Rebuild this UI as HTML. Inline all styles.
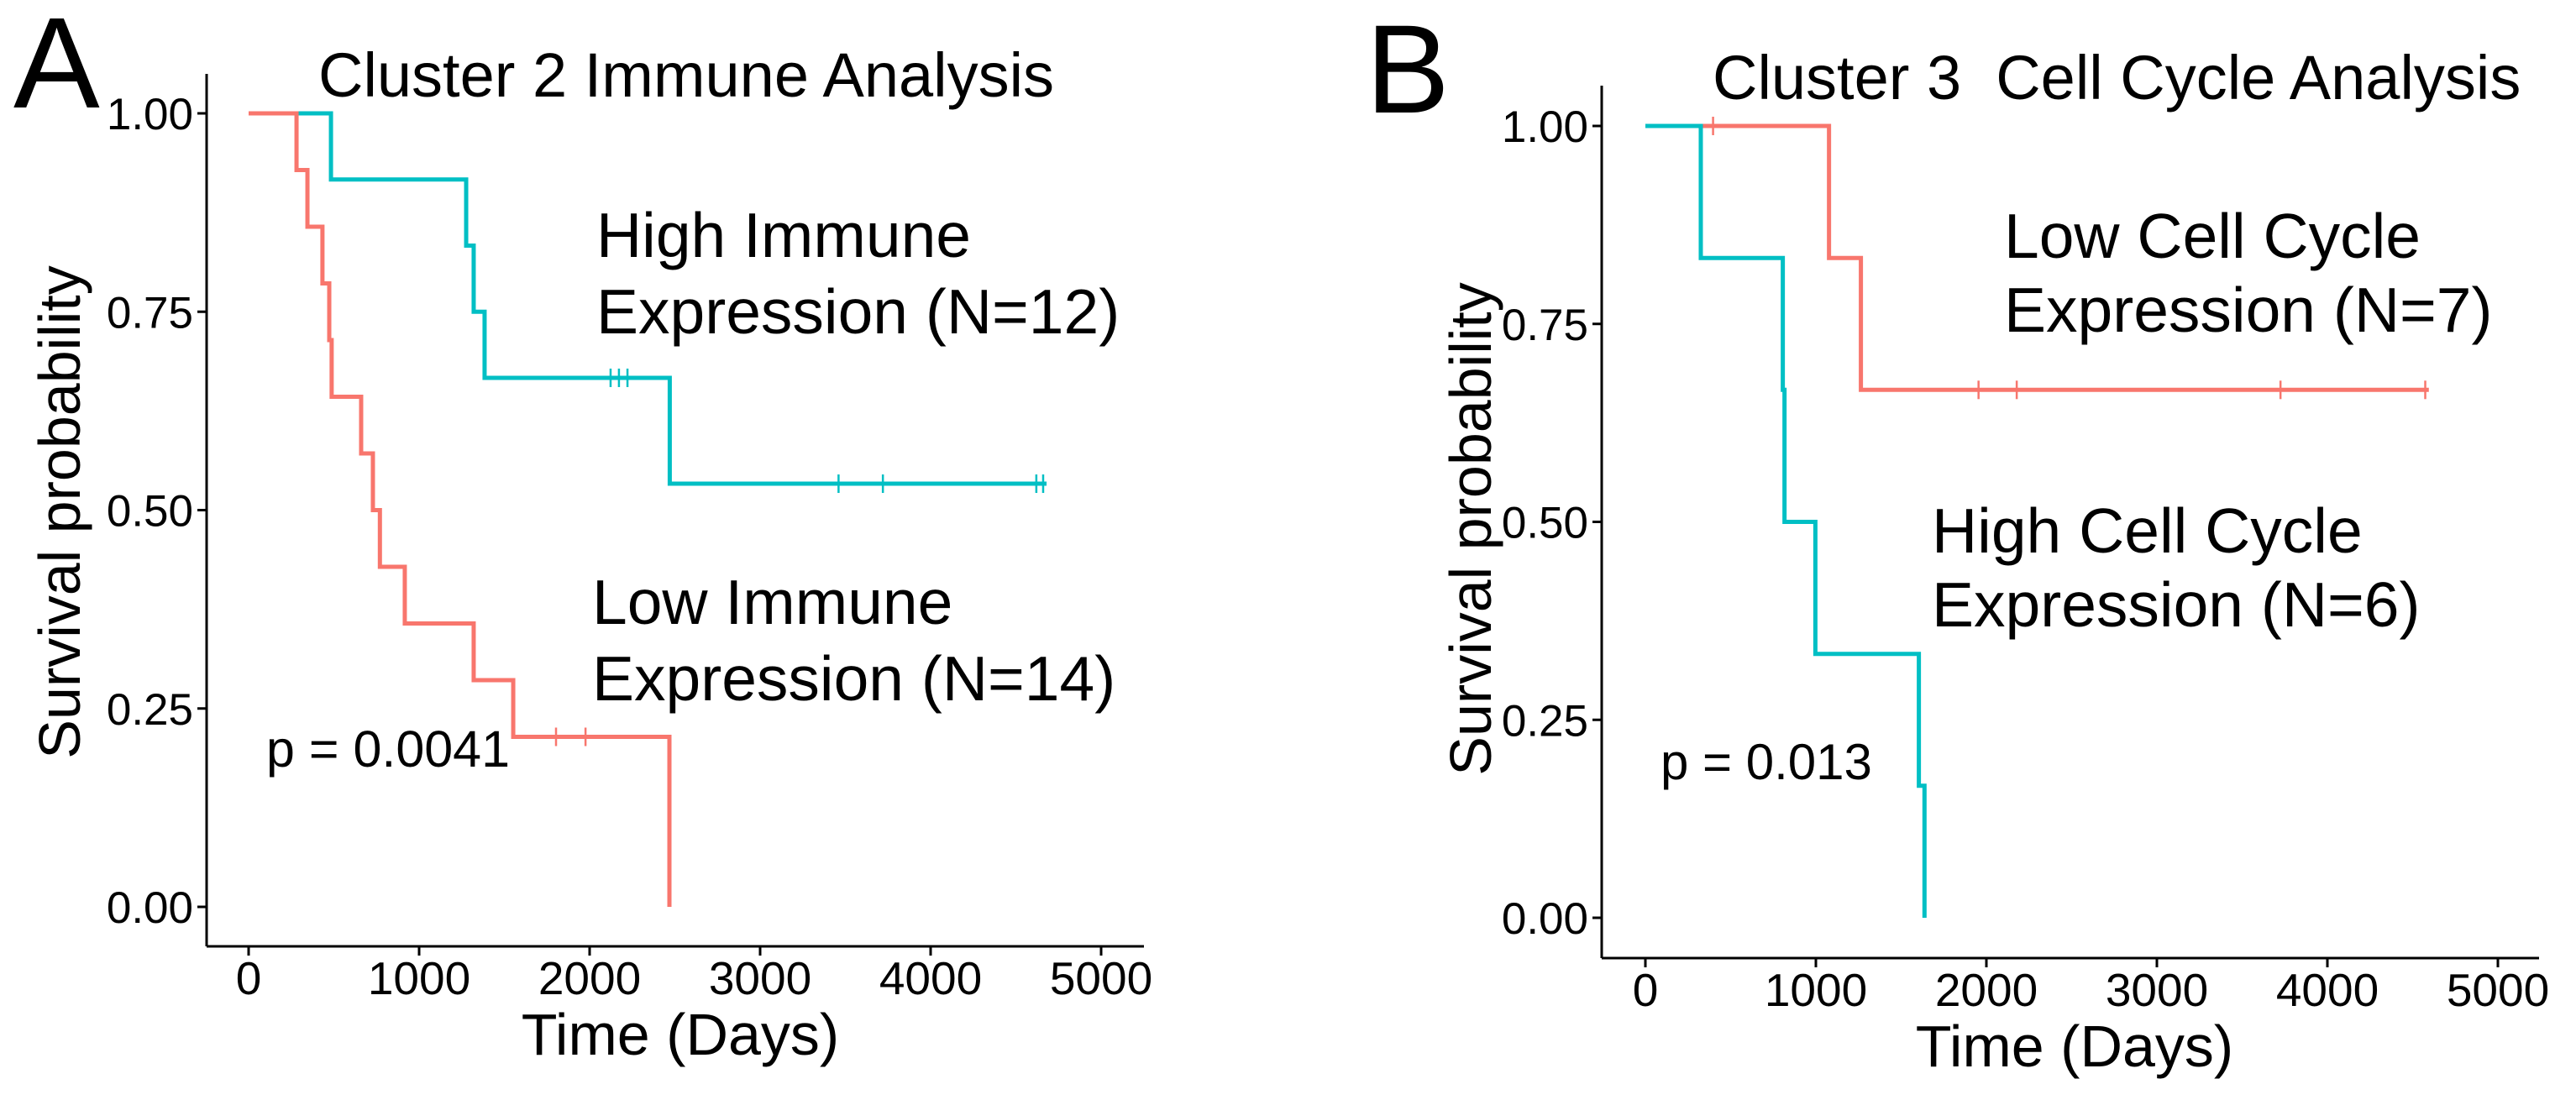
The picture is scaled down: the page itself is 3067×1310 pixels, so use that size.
<!DOCTYPE html>
<html><head><meta charset="utf-8"><style>
html,body{margin:0;padding:0;background:#fff;}
svg{display:block;font-family:"Liberation Sans",Arial,sans-serif;}
</style></head><body>
<svg id="fig" width="3067" height="1310" viewBox="0 0 3067 1310" xmlns="http://www.w3.org/2000/svg">
<text x="16" y="128" font-size="154">A</text>
<text x="1626" y="134" font-size="150">B</text>
<text x="379" y="115" font-size="74">Cluster 2 Immune Analysis</text>
<text x="2039" y="118" font-size="74" xml:space="preserve">Cluster 3  Cell Cycle Analysis</text>
<g font-size="75">
<text x="710" y="306">High Immune</text><text x="710" y="397">Expression (N=12)</text></g>
<g font-size="75">
<text x="705" y="743">Low Immune</text><text x="705" y="834">Expression (N=14)</text></g>
<text x="317" y="913" font-size="61">p = 0.0041</text>
<g font-size="75">
<text x="2386" y="307">Low Cell Cycle</text><text x="2386" y="395">Expression (N=7)</text></g>
<g font-size="75">
<text x="2300" y="658">High Cell Cycle</text><text x="2300" y="746">Expression (N=6)</text></g>
<text x="1977" y="928" font-size="60">p = 0.013</text>
</svg>
<script>
const NS="http://www.w3.org/2000/svg";
const svg=document.getElementById('fig');
const xTicks=[0,1000,2000,3000,4000,5000];
const yTicks=[0,0.25,0.5,0.75,1];
const yTickLabels=["0.00","0.25","0.50","0.75","1.00"];
// Panel A: High immune (teal)
const aHighTimes=[0,483,1276,1320,1384,2470];
const aHighSurv=[1,0.9167,0.8333,0.75,0.6667,0.5333];
const aHighEnd=4680;
const aHighCensor=[2123,2172,2222,3460,3720,4620,4660];
// Panel A: Low immune (red)
const aLowTimes=[0,281,345,433,473,487,660,729,770,916,1320,1552,2468];
const aLowSurv=[1,0.9286,0.8571,0.7857,0.7143,0.6429,0.5714,0.5,0.4286,0.3571,0.2857,0.2143,0];
const aLowEnd=2468;
const aLowCensor=[1803,1976];
// Panel B: Low cell cycle (red)
const bLowTimes=[0,1077,1264];
const bLowSurv=[1,0.8333,0.6667];
const bLowEnd=4595;
const bLowCensor=[397,1954,2178,3725,4574];
// Panel B: High cell cycle (teal)
const bHighTimes=[0,325,806,816,997,1604,1637];
const bHighSurv=[1,0.8333,0.6667,0.5,0.3333,0.1667,0];
const bHighEnd=1637;
const bHighCensor=[];

function el(tag,attrs,parent){const e=document.createElementNS(NS,tag);for(const k in attrs)e.setAttribute(k,attrs[k]);(parent||svg).appendChild(e);return e;}

function panel(p,id){
  const sx=t=>p.x0+(p.x5-p.x0)*t/5000;
  const sy=v=>p.y0+(p.y1-p.y0)*v;
  const g=el('g',{});
  
  
  const ya=el('line',{x1:p.ax,y1:p.top,x2:p.ax,y2:p.bot,stroke:'#000','stroke-width':3},g);
  
  
  const xa=el('line',{x1:p.ax,y1:p.bot,x2:p.right,y2:p.bot,stroke:'#000','stroke-width':3},g);
  
  
  xTicks.forEach(t=>{
    el('line',{x1:sx(t),y1:p.bot,x2:sx(t),y2:p.bot+11,stroke:'#000','stroke-width':3},g);
    const tx=el('text',{x:sx(t),y:p.xlb,'font-size':55,'text-anchor':'middle'},g);
    
    
    tx.textContent=t;
  });
  yTicks.forEach((v,i)=>{
    el('line',{x1:p.ax-11,y1:sy(v),x2:p.ax,y2:sy(v),stroke:'#000','stroke-width':3},g);
    const tx=el('text',{x:p.ax-16,y:sy(v)+19,'font-size':53,'text-anchor':'end'},g);
    
    
    tx.textContent=yTickLabels[i];
  });
  const xt=el('text',{x:p.xtx,y:p.xty,'font-size':70,'text-anchor':'middle'},g);
  
  
  xt.textContent='Time (Days)';
  const yt=el('text',{x:0,y:0,'font-size':70,'text-anchor':'middle',transform:`translate(${p.ytx},${p.yty}) rotate(-90)`},g);
  
  
  yt.textContent='Survival probability';
  p.series.forEach(s=>{
    let d=`M${sx(s.t[0])},${sy(s.s[0])}`;
    for(let i=1;i<s.t.length;i++){d+=` H${sx(s.t[i])} V${sy(s.s[i])}`;}
    d+=` H${sx(s.end)}`;
    const path=el('path',{d:d,fill:'none',stroke:s.c,'stroke-width':5},g);
    
    
    s.cens.forEach(ct=>{
      let v=s.s[0];for(let i=0;i<s.t.length;i++){if(s.t[i]<=ct)v=s.s[i];}
      const m=el('line',{x1:sx(ct),y1:sy(v)-11,x2:sx(ct),y2:sy(v)+11,stroke:s.c,'stroke-width':2.5},g);
      
      
    });
  });
}
const RED='#F8766D',TEAL='#00BFC4';
panel({x0:296,x5:1311,y1:135,y0:1080,ax:246,top:88,bot:1127,right:1362,xlb:1184,xtx:810,xty:1256,ytx:95,yty:610,
  series:[{t:aHighTimes,s:aHighSurv,end:aHighEnd,cens:aHighCensor,c:TEAL,name:'curve-high-immune'},
          {t:aLowTimes,s:aLowSurv,end:aLowEnd,cens:aLowCensor,c:RED,name:'curve-low-immune'}]},'a');
panel({x0:1959,x5:2974,y1:150,y0:1093,ax:1907,top:102,bot:1141,right:3023,xlb:1198,xtx:2470,xty:1270,ytx:1775,yty:630,
  series:[{t:bLowTimes,s:bLowSurv,end:bLowEnd,cens:bLowCensor,c:RED,name:'curve-low-cell-cycle'},
          {t:bHighTimes,s:bHighSurv,end:bHighEnd,cens:bHighCensor,c:TEAL,name:'curve-high-cell-cycle'}]},'b');
</script>
</body></html>
